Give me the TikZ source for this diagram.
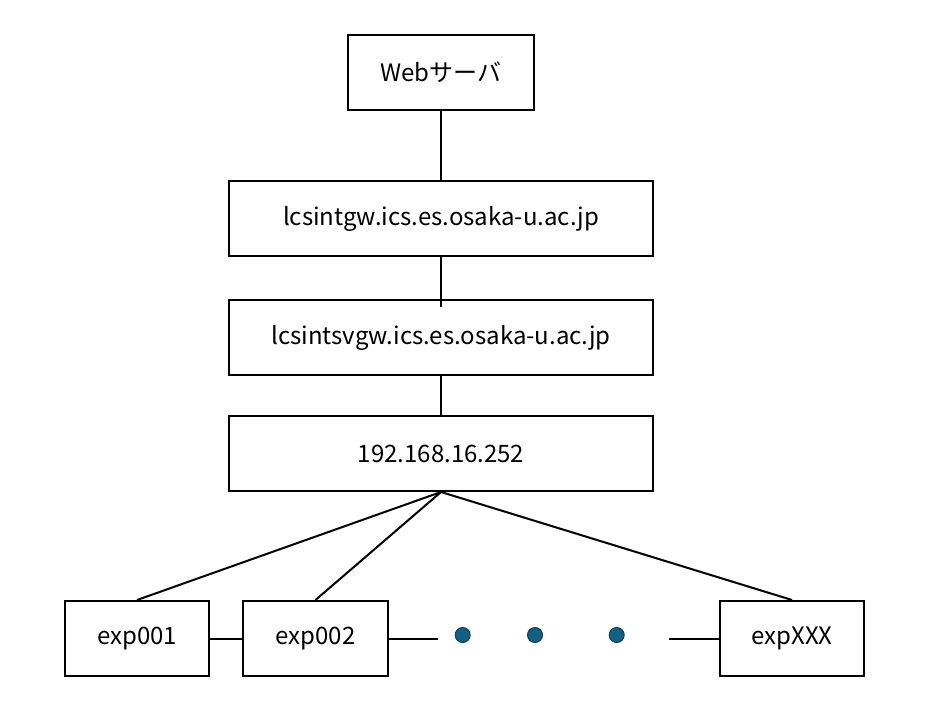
\documentclass[tikz,border=0pt]{standalone}
\usepackage{fontspec}
\setmainfont{Noto Sans CJK JP}
\usepackage[dvipsnames]{xcolor}
\definecolor{dotblue}{HTML}{156082}
\definecolor{dotline}{HTML}{0E3F56}

\begin{document}
\begin{tikzpicture}[x=1pt,y=-1pt,
    hostbox/.style={draw,line width=2pt,minimum height=75pt,font=\fontsize{24}{28}\selectfont},
    wide/.style={hostbox,minimum width=424pt},
    client/.style={hostbox,minimum width=144pt},
    link/.style={line width=2pt},
    hostdot/.style={circle,fill=dotblue,draw=dotline,line width=1pt,minimum size=15pt,inner sep=0pt}]
    \useasboundingbox (0,0) rectangle (928,703);
    \node[hostbox,minimum width=186pt] (web) at (441,72.5) {Webサーバ};
    \node[wide] (gw)   at (441,218.5) {lcsintgw.ics.es.osaka-u.ac.jp};
    \node[wide] (svgw) at (441,337.5) {lcsintsvgw.ics.es.osaka-u.ac.jp};
    \node[wide] (lan)  at (441,453.5) {192.168.16.252};
    \node[client] (exp1) at (137,638.5) {exp001};
    \node[client,minimum width=145pt] (exp2) at (315.5,638.5) {exp002};
    \node[client] (expx) at (792,638.5) {expXXX};
    \node[hostdot] (d1) at (462.7,635) {};
    \node[hostdot] (d2) at (535,635) {};
    \node[hostdot] (d3) at (616.7,635) {};
    \coordinate (endA) at (438,638.5);
    \coordinate (endB) at (669,638.5);
    \draw[link] (web) -- (gw);
    \draw[link] (gw.south) -- ([yshift=-8pt]svgw.north);
    \draw[link] (svgw) -- (lan);
    \draw[link] (lan.south) -- (exp1.north);
    \draw[link] (lan.south) -- (exp2.north);
    \draw[link] (lan.south) -- (expx.north);
    \draw[link] (exp1) -- (exp2);
    \draw[link] (exp2) -- (endA);
    \draw[link] (endB) -- (expx);
\end{tikzpicture}
\end{document}
